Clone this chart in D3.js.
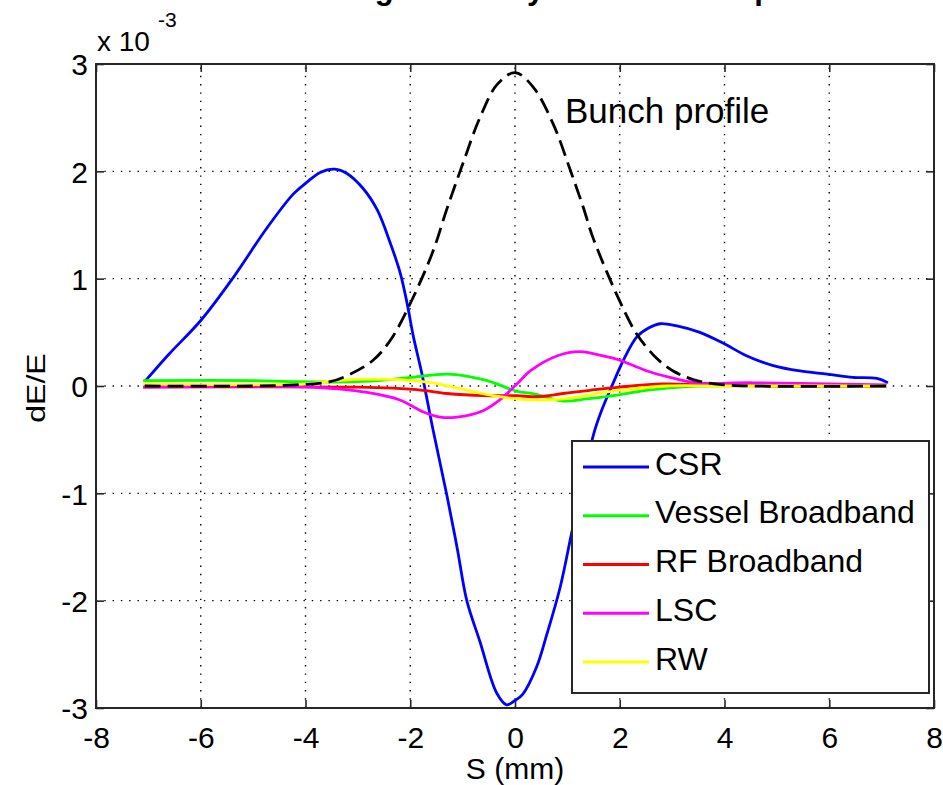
<!DOCTYPE html>
<html>
<head>
<meta charset="utf-8">
<script src="https://cdn.jsdelivr.net/npm/d3@7"></script>
<style>
  html, body { margin: 0; padding: 0; background: #fff; }
  svg { display: block; font-family: "Liberation Sans", Arial, Helvetica, sans-serif; }
</style>
</head>
<body>
<svg id="chart" width="943" height="785"></svg>
<script>
// Energy deviation along the bunch (units of 1e-3) per wake source, S in mm.
const csrS = [-7.07, -6.6, -6.0, -5.38, -4.74, -4.23, -3.97, -3.72, -3.44, -3.21, -2.9, -2.63, -2.38, -2.19, -2.06, -1.94, -1.78, -1.56, -1.3, -1.1, -0.92, -0.67, -0.35, -0.16, 0.0, 0.15, 0.41, 0.61, 0.86, 1.09, 1.3, 1.5, 1.66, 1.85, 2.07, 2.33, 2.55, 2.77, 3.09, 3.53, 3.97, 4.43, 4.93, 5.44, 5.96, 6.45, 6.91, 7.12];
const csrE = [0.04, 0.3, 0.61, 1.01, 1.47, 1.79, 1.90, 1.99, 2.02, 1.98, 1.84, 1.64, 1.33, 1.05, 0.77, 0.46, 0.12, -0.42, -1.02, -1.52, -2.0, -2.38, -2.86, -2.97, -2.93, -2.87, -2.62, -2.31, -1.88, -1.35, -0.88, -0.45, -0.22, 0.0, 0.24, 0.46, 0.54, 0.58, 0.56, 0.50, 0.40, 0.28, 0.19, 0.14, 0.11, 0.08, 0.07, 0.03];

const vesselS = [-7.1, -5.0, -4.2, -3.0, -2.4, -2.0, -1.3, -0.9, -0.53, -0.3, 0.04, 0.34, 0.92, 1.37, 1.87, 2.5, 3.15, 3.5, 5.0, 7.1];
const vesselE = [0.05, 0.05, 0.04, 0.04, 0.06, 0.08, 0.11, 0.09, 0.05, 0.01, -0.05, -0.07, -0.14, -0.12, -0.09, -0.04, -0.01, 0.0, 0.0, 0.0];

const rfS = [-7.1, -3.0, -2.33, -1.76, -1.3, -0.6, 0.03, 0.42, 0.92, 1.43, 2.0, 2.83, 3.6, 5.0, 7.1];
const rfE = [-0.01, -0.01, -0.02, -0.04, -0.07, -0.09, -0.09, -0.1, -0.07, -0.04, -0.01, 0.02, 0.01, 0.0, 0.0];

const lscS = [-7.1, -3.9, -2.83, -2.2, -1.76, -1.43, -1.11, -0.61, -0.29, 0.04, 0.29, 0.8, 1.24, 1.68, 2.0, 2.52, 2.96, 3.47, 4.55, 7.1];
const lscE = [-0.01, -0.01, -0.06, -0.13, -0.24, -0.29, -0.29, -0.23, -0.13, 0.02, 0.14, 0.28, 0.32, 0.28, 0.24, 0.14, 0.08, 0.03, 0.03, 0.01];

const rwS = [-7.1, -4.0, -3.4, -2.2, -1.56, -0.92, -0.29, 0.04, 0.29, 0.92, 1.56, 2.2, 2.9, 4.0, 7.1];
const rwE = [0.02, 0.02, 0.05, 0.06, 0.03, -0.04, -0.1, -0.12, -0.13, -0.12, -0.07, -0.03, 0.0, 0.0, 0.0];

// Longitudinal bunch profile, drawn on the same vertical scale.
const bunchS = [-7.07, -5.0, -4.2, -3.53, -3.15, -2.71, -2.36, -1.95, -1.57, -1.3, -0.99, -0.67, -0.34, 0.0, 0.34, 0.73, 1.05, 1.3, 1.49, 2.0, 2.33, 2.7, 3.02, 3.4, 3.8, 4.5, 7.12];
const bunchE = [0.0, 0.0, 0.01, 0.04, 0.11, 0.24, 0.44, 0.82, 1.25, 1.65, 2.08, 2.5, 2.81, 2.92, 2.79, 2.44, 2.02, 1.67, 1.38, 0.79, 0.48, 0.26, 0.14, 0.06, 0.02, 0.0, 0.0];

const seriesNames = ["CSR", "Vessel Broadband", "RF Broadband", "LSC", "RW"];
const seriesColors = ["#0000ff", "#00ff00", "#ff0000", "#ff00ff", "#ffff00"];
const xTicks = [-8, -6, -4, -2, 0, 2, 4, 6, 8];
const yTicks = [-3, -2, -1, 0, 1, 2, 3];

const series = [
  { name: seriesNames[0], color: seriesColors[0], s: csrS, e: csrE },
  { name: seriesNames[1], color: seriesColors[1], s: vesselS, e: vesselE },
  { name: seriesNames[2], color: seriesColors[2], s: rfS, e: rfE },
  { name: seriesNames[3], color: seriesColors[3], s: lscS, e: lscE },
  { name: seriesNames[4], color: seriesColors[4], s: rwS, e: rwE }
];

const svg = d3.select("#chart");
const m = { left: 96, right: 934, top: 64, bottom: 708 };
const x = d3.scaleLinear().domain([-8, 8]).range([m.left, m.right]);
const y = d3.scaleLinear().domain([-3, 3]).range([m.bottom, m.top]);
const axisColor = "#262626";
const plain = d => String(d);

// Title, sitting above the visible area
svg.append("text")
  .attr("x", 555).attr("y", -1)
  .attr("text-anchor", "middle")
  .attr("font-size", 31).attr("font-weight", "bold")
  .attr("fill", "#000")
  .text("Resulting Wakes by Machine Component");

// Dotted grid
const grid = svg.append("g").attr("stroke", "#000").attr("stroke-width", 1.4)
  .attr("stroke-dasharray", "1.4 6.9");
grid.selectAll("line.gx").data(xTicks.slice(1, -1)).join("line")
  .attr("x1", d => x(d)).attr("x2", d => x(d))
  .attr("y1", m.bottom).attr("y2", m.top);
grid.selectAll("line.gy").data(yTicks.slice(1, -1)).join("line")
  .attr("x1", m.left).attr("x2", m.right)
  .attr("y1", d => y(d)).attr("y2", d => y(d));

// Axes with inward ticks on all four sides
const tickLen = 8;
const axB = svg.append("g").attr("transform", `translate(0,${m.bottom})`)
  .call(d3.axisBottom(x).tickValues(xTicks).tickSizeInner(-tickLen).tickSizeOuter(0).tickFormat(plain));
const axT = svg.append("g").attr("transform", `translate(0,${m.top})`)
  .call(d3.axisTop(x).tickValues(xTicks).tickSizeInner(-tickLen).tickSizeOuter(0).tickFormat(""));
const axL = svg.append("g").attr("transform", `translate(${m.left},0)`)
  .call(d3.axisLeft(y).tickValues(yTicks).tickSizeInner(-tickLen).tickSizeOuter(0).tickFormat(plain));
const axR = svg.append("g").attr("transform", `translate(${m.right},0)`)
  .call(d3.axisRight(y).tickValues(yTicks).tickSizeInner(-tickLen).tickSizeOuter(0).tickFormat(""));
[axB, axT, axL, axR].forEach(g => {
  g.select(".domain").remove();
  g.selectAll(".tick line").attr("stroke", axisColor).attr("stroke-width", 1.6);
  g.selectAll(".tick text").attr("font-size", 30).attr("fill", "#000")
    .attr("font-family", "'Liberation Sans', Arial, sans-serif");
});
axB.selectAll(".tick text").attr("dy", null).attr("y", 40);
axL.selectAll(".tick text").attr("dy", "0.36em").attr("x", -8);

// Scale multiplier above the y axis
svg.append("text").attr("x", 97).attr("y", 51).attr("font-size", 28).attr("fill", "#000").text("x 10");
svg.append("text").attr("x", 158).attr("y", 27).attr("font-size", 21).attr("fill", "#000").text("-3");

// Axis titles
svg.append("text").attr("x", 515).attr("y", 779).attr("text-anchor", "middle")
  .attr("font-size", 30).attr("fill", "#000").text("S (mm)");
svg.append("text")
  .attr("transform", "translate(45,388) rotate(-90) scale(1,0.8)")
  .attr("text-anchor", "middle").attr("font-size", 32).attr("fill", "#000").text("dE/E");

// Curves
const line = d3.line().x(d => x(d[0])).y(d => y(d[1])).curve(d3.curveCatmullRom.alpha(0.5));
const plot = svg.append("g");
series.forEach(sr => {
  plot.append("path")
    .datum(sr.s.map((v, i) => [v, sr.e[i]]))
    .attr("fill", "none").attr("stroke", sr.color)
    .attr("stroke-width", 2.8).attr("stroke-linejoin", "round")
    .attr("d", line);
});
plot.append("path")
  .datum(bunchS.map((v, i) => [v, bunchE[i]]))
  .attr("fill", "none").attr("stroke", "#000")
  .attr("stroke-width", 2.8).attr("stroke-dasharray", "16 7")
  .attr("d", line);

svg.append("text").attr("x", 565).attr("y", 123).attr("font-size", 35).attr("fill", "#000").text("Bunch profile");

// Plot frame
svg.append("rect").attr("x", m.left).attr("y", m.top)
  .attr("width", m.right - m.left).attr("height", m.bottom - m.top)
  .attr("fill", "none").attr("stroke", axisColor).attr("stroke-width", 2);

// Legend
const lg = svg.append("g");
lg.append("rect").attr("x", 572).attr("y", 441).attr("width", 357).attr("height", 252)
  .attr("fill", "#fff").attr("stroke", axisColor).attr("stroke-width", 2);
const rowY = d3.scalePoint().domain(seriesNames).range([467, 662]);
const rows = lg.selectAll("g.row").data(series).join("g")
  .attr("transform", d => `translate(0,${rowY(d.name)})`);
rows.append("line").attr("x1", 583).attr("x2", 649).attr("y1", 0).attr("y2", 0)
  .attr("stroke", d => d.color).attr("stroke-width", 2.8);
rows.append("text").attr("x", 655).attr("y", 6).attr("dy", "0.05em")
  .attr("font-size", 32).attr("fill", "#000").text(d => d.name);
</script>
</body>
</html>
